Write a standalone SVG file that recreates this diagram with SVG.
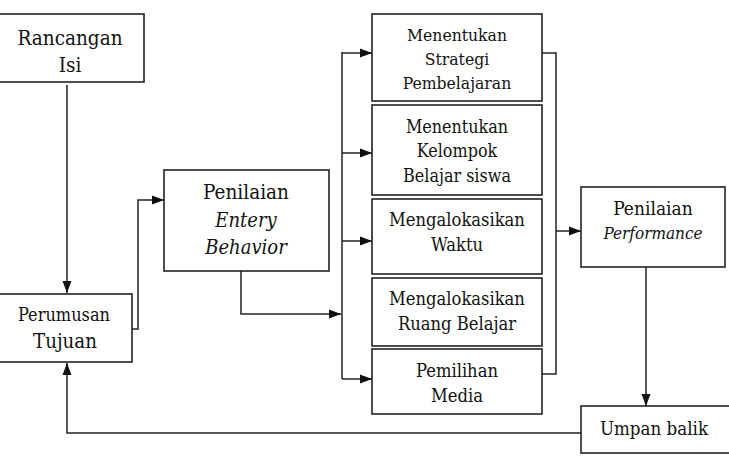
<svg xmlns="http://www.w3.org/2000/svg" width="729" height="456" viewBox="0 0 729 456">
<style>
.box{fill:#fff;stroke:#222;stroke-width:1.6}
.t{font-family:'DejaVu Serif Condensed','DejaVu Serif',serif;font-stretch:condensed;fill:#111;text-anchor:middle}
.i{font-style:italic}
.c{fill:none;stroke:#222;stroke-width:1.5}
</style>
<defs>
<marker id="a" viewBox="0 0 12 10" refX="12" refY="5" markerWidth="12" markerHeight="10" markerUnits="userSpaceOnUse" orient="auto">
<path d="M0,0.5 L12,5 L0,9.5 z" fill="#111"/>
</marker>
</defs>
<rect width="729" height="456" fill="#fff"/>
<g id="connectors">
<path class="c" d="M67,85 V293" marker-end="url(#a)"/>
<path class="c" d="M124,329 H138 V200 H164" marker-end="url(#a)"/>
<path class="c" d="M241,255 V314 H341" marker-end="url(#a)"/>
<path class="c" d="M342,52 V379"/>
<path class="c" d="M342,53 H372" marker-end="url(#a)"/>
<path class="c" d="M342,153 H372" marker-end="url(#a)"/>
<path class="c" d="M342,241 H372" marker-end="url(#a)"/>
<path class="c" d="M342,379 H372" marker-end="url(#a)"/>
<path class="c" d="M542,53 H556 V374 H542"/>
<path class="c" d="M556,231 H581" marker-end="url(#a)"/>
<path class="c" d="M646,267 V406" marker-end="url(#a)"/>
<path class="c" d="M581,433 H67 V363" marker-end="url(#a)"/>
</g>
<g id="rancangan">
<rect class="box" x="-2" y="14" width="146" height="68"/>
<text class="t" x="70" y="45" font-size="20.5">Rancangan</text>
<text class="t" x="70" y="72" font-size="20.5">Isi</text>
</g>
<g id="perumusan">
<rect class="box" x="-2" y="294" width="134" height="68"/>
<text class="t" x="64" y="321" font-size="18">Perumusan</text>
<text class="t" x="65" y="348" font-size="20.3">Tujuan</text>
</g>
<g id="entery">
<rect class="box" x="164" y="170" width="165" height="101"/>
<text class="t" x="246" y="199" font-size="20.5">Penilaian</text>
<text class="t i" x="246" y="227" font-size="20">Entery</text>
<text class="t i" x="246" y="254" font-size="20">Behavior</text>
</g>
<g id="strategi">
<rect class="box" x="372" y="14" width="170" height="87"/>
<text class="t" x="457" y="41" font-size="17.4">Menentukan</text>
<text class="t" x="457" y="65" font-size="17.4">Strategi</text>
<text class="t" x="457" y="89" font-size="17.4">Pembelajaran</text>
</g>
<g id="kelompok">
<rect class="box" x="372" y="105" width="170" height="90"/>
<text class="t" x="457" y="133" font-size="17.8">Menentukan</text>
<text class="t" x="457" y="157" font-size="17.8">Kelompok</text>
<text class="t" x="457" y="182" font-size="17.8">Belajar siswa</text>
</g>
<g id="waktu">
<rect class="box" x="372" y="199" width="170" height="75"/>
<text class="t" x="457" y="226" font-size="18.2">Mengalokasikan</text>
<text class="t" x="457" y="251" font-size="18.2">Waktu</text>
</g>
<g id="ruang">
<rect class="box" x="372" y="278" width="170" height="68"/>
<text class="t" x="457" y="305" font-size="18.2">Mengalokasikan</text>
<text class="t" x="457" y="330" font-size="18.2">Ruang Belajar</text>
</g>
<g id="media">
<rect class="box" x="372" y="349" width="170" height="65"/>
<text class="t" x="457" y="377" font-size="18.2">Pemilihan</text>
<text class="t" x="457" y="402" font-size="18.2">Media</text>
</g>
<g id="performance">
<rect class="box" x="581" y="187" width="144" height="80"/>
<text class="t" x="653" y="215" font-size="19">Penilaian</text>
<text class="t i" x="653" y="239" font-size="17">Performance</text>
</g>
<g id="umpan">
<rect class="box" x="581" y="406" width="160" height="47"/>
<text class="t" x="654" y="435" font-size="18.6">Umpan balik</text>
</g>
</svg>
